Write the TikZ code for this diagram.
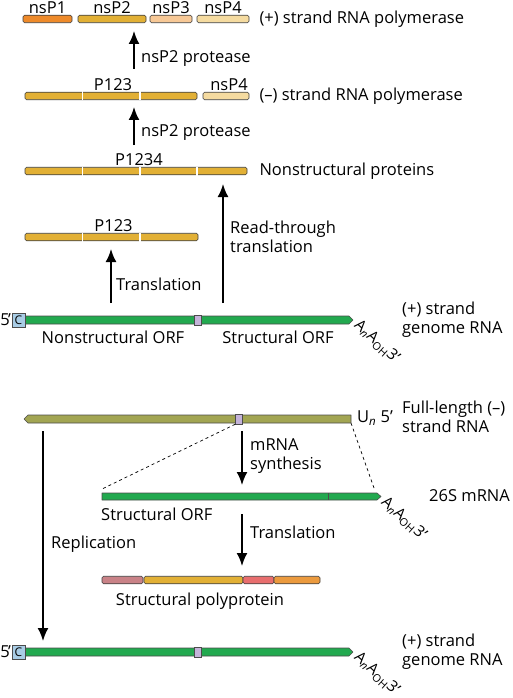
\documentclass[tikz,border=0pt]{standalone}
\usepackage{fontspec}
\setmainfont{Open Sans}
\usetikzlibrary{arrows.meta,positioning,calc}
\definecolor{Gold}{HTML}{E2B035}
\definecolor{Amber}{HTML}{EE8A2A}
\definecolor{Peach}{HTML}{F7C896}
\definecolor{Pale}{HTML}{F5DBA0}
\definecolor{Leaf}{HTML}{22A94F}
\definecolor{Olive}{HTML}{A2A552}
\definecolor{Lilac}{HTML}{C4B3D9}
\definecolor{Ice}{HTML}{A9CDE6}
\definecolor{Mauve}{HTML}{C98287}
\definecolor{Salmon}{HTML}{E86E6E}
\definecolor{Tan}{HTML}{EB9A3E}
\tikzset{
  seg/.style={draw=black!75,rounded corners=1.5pt,line width=.6pt,inner sep=0pt,
    minimum height=7.5pt},
  cut/.style={draw=white,line width=1.3pt},
  rna/.style={draw=black!70,line width=.6pt,line join=round},
  junc/.style={draw=black!70,fill=Lilac,line width=.5pt,inner sep=0pt,
    minimum width=7pt,minimum height=10pt},
  capbox/.style={draw=black!70,fill=Ice,line width=.6pt,inner sep=0pt,
    minimum width=13pt,minimum height=14pt,font=\fontsize{12}{12}\selectfont},
  lbl/.style={font=\fontsize{16.5}{19}\selectfont,inner sep=1pt,align=left},
  tail/.style={font=\fontsize{15.5}{19}\selectfont,inner sep=0pt,rotate=-42,
    anchor=north west},
  arrow/.style={-{Latex[length=13pt,width=11pt]},line width=1.9pt},
  guide/.style={dashed,line width=.7pt}
}
\newcommand{\polyA}{A\textsubscript{\itshape n}A\textsubscript{OH}3’}

\begin{document}
\begin{tikzpicture}[x=1pt,y=-1pt]
  \useasboundingbox (0,0) rectangle (512,698);
  % (+) strand RNA polymerase
  \node[seg,fill=Amber,minimum width=49] (nsp1) at (47.5,19) {};
  \node[seg,fill=Gold,minimum width=68] (nsp2) at (112,19) {};
  \node[seg,fill=Peach,minimum width=42] (nsp3) at (171,19) {};
  \node[seg,fill=Pale,minimum width=52] (nsp4) at (223,19) {};
  \foreach \s/\t in {nsp1/nsP1,nsp2/nsP2,nsp3/nsP3,nsp4/nsP4}
    \node[lbl,above=0pt of \s] {\t};
  \node[lbl,right=9pt of nsp4] (plus) {(+) strand RNA polymerase};
  % (-) strand RNA polymerase
  \node[seg,fill=Gold,minimum width=172] (pa) at (111,96) {};
  \node[seg,fill=Pale,minimum width=46] (pb) at (226,96) {};
  \foreach \x in {82.5,140} \draw[cut] (\x,91.5) -- (\x,100.5);
  \node[lbl,above=0pt of pa,xshift=2pt] {P123};
  \node[lbl,above=0pt of pb,xshift=3pt] {nsP4};
  \node[lbl,right=9pt of pb] (minus) {(–) strand RNA polymerase};
  % nonstructural proteins
  \node[seg,fill=Gold,minimum width=222] (pc) at (136,171) {};
  \foreach \x in {82.5,140,197} \draw[cut] (\x,166.5) -- (\x,175.5);
  \node[lbl,above=0pt of pc,xshift=3pt] {P1234};
  \node[lbl,right=11pt of pc] (nsprot) {Nonstructural proteins};
  \node[seg,fill=Gold,minimum width=173] (pd) at (111.5,237) {};
  \foreach \x in {82.5,140} \draw[cut] (\x,232.5) -- (\x,241.5);
  \node[lbl,above=0pt of pd,xshift=2pt] {P123};
  % arrows to the proteins
  \coordinate (a1s) at (134,69);  \coordinate (a1e) at (134,31);
  \coordinate (a2s) at (134,145); \coordinate (a2e) at (134,107);
  \coordinate (a3s) at (111,303); \coordinate (a3e) at (111,249);
  \coordinate (a4s) at (223,303); \coordinate (a4e) at (223,184);
  \draw[arrow] (a1s) -- (a1e);
  \draw[arrow] (a2s) -- (a2e);
  \draw[arrow] (a3s) -- (a3e);
  \draw[arrow] (a4s) -- (a4e);
  \node[lbl,anchor=west] at (140,59) {nsP2 protease};
  \node[lbl,anchor=west] at (140,133) {nsP2 protease};
  \node[lbl,anchor=west] at (115,284) {Translation};
  \node[lbl,anchor=west] at (229,237) {Read-through\\translation};
  % genome RNA, top and bottom
  \foreach \y/\n in {320/1,652/2}{
    \draw[rna,fill=Leaf] (25,\y-4) -- (349,\y-4) -- (353,\y) -- (349,\y+4)
      -- (25,\y+4) -- cycle;
    \node[capbox] (cap\n) at (18.5,\y) {C};
    \node[lbl,inner sep=0pt,left=0.5pt of cap\n] {5\kern-1.5pt’};
    \node[junc] (j\n) at (197.5,\y) {};
    \node[tail] at (361,\y-2) {\polyA};
    \node[lbl,anchor=west] (gen\n) at (401,\y) {(+) strand\\genome RNA};
  }
  \node[lbl] at (113,337) {Nonstructural ORF};
  \node[lbl] at (278,337) {Structural ORF};
  % full-length (-) strand
  \draw[rna,fill=Olive] (28,415) -- (351,415) -- (351,423) -- (28,423)
    -- (24,419) -- cycle;
  \node[junc] (jm) at (239,419) {};
  \node[lbl,anchor=west] at (356,418) {U\textsubscript{\itshape n} 5’};
  \node[lbl,anchor=west] at (401,417) {Full-length (–)\\strand RNA};
  % 26S mRNA
  \draw[rna,fill=Leaf] (102,493) -- (377,493) -- (381,496.5) -- (377,500)
    -- (102,500) -- cycle;
  \draw[rna] (328,493) -- (328,500);
  \coordinate (mL) at (102,489); \coordinate (mR) at (374,488);
  \coordinate (fR) at (351,423);
  \draw[guide] (jm.south west) -- (mL);
  \draw[guide] (fR) -- (mR);
  \node[lbl,anchor=west] at (100,514) {Structural ORF};
  \node[tail] at (388,494.5) {\polyA};
  \node[lbl,anchor=west] at (428,496) {26S mRNA};
  % structural polyprotein
  \node[seg,fill=Mauve,minimum width=41] (sa) at (122.5,580) {};
  \node[seg,fill=Gold,minimum width=99] (sb) at (193.5,580) {};
  \node[seg,fill=Salmon,minimum width=31] (sc) at (258.5,580) {};
  \node[seg,fill=Tan,minimum width=46] (sd) at (297,580) {};
  \node[lbl] at (200,601) {Structural polyprotein};
  % replication and mRNA arrows
  \coordinate (r1s) at (43,431);  \coordinate (r1e) at (43,641);
  \coordinate (m1s) at (242,431); \coordinate (m1e) at (242,485);
  \coordinate (t2s) at (242,514); \coordinate (t2e) at (242,566);
  \draw[arrow] (r1s) -- (r1e);
  \draw[arrow] (m1s) -- (m1e);
  \draw[arrow] (t2s) -- (t2e);
  \node[lbl,anchor=west] at (50,544) {Replication};
  \node[lbl,anchor=west] at (249,456) {mRNA\\synthesis};
  \node[lbl,anchor=west] at (249,532) {Translation};
\end{tikzpicture}
\end{document}
